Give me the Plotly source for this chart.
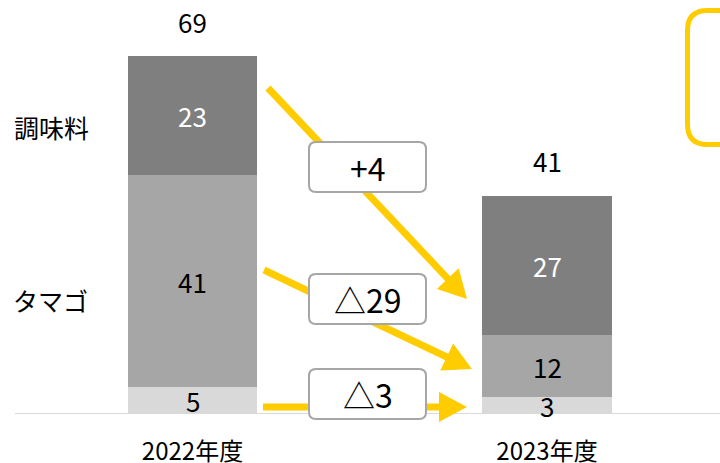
import math
import plotly.graph_objects as go

# ---------------- data ----------------
years = ["2022年度", "2023年度"]
series_names = ["その他", "タマゴ", "調味料"]
other = [5, 3]
egg = [41, 12]
seasoning = [23, 27]
total_labels = ["69", "41"]
change_labels = ["+4", "△29", "△3"]   # 調味料, タマゴ, その他

series_values = [other, egg, seasoning]
series_colors = ["#D9D9D9", "#A6A6A6", "#7F7F7F"]
label_colors = ["#000000", "#000000", "#FFFFFF"]
YELLOW = "#FFCC00"
FONT = "Noto Sans CJK JP"

# ---------------- geometry ----------------
W, H = 720, 463
ML, MR, MT, MB = 15, 0, 0, 50
PW, PH = W - ML - MR, H - MT - MB
X_UNIT = 354.5                       # px per category step
X0 = -(192.5 - ML) / X_UNIT
XR = [X0, X0 + PW / X_UNIT]
Y_UNIT = 357 / 69                    # px per value unit
YR = [0, PH / Y_UNIT]


def dx(px):
    return XR[0] + (px - ML) / PW * (XR[1] - XR[0])


def dy(py):
    return YR[0] + (H - MB - py) / PH * (YR[1] - YR[0])


def paper_x(px):
    return (px - ML) / PW


def paper_y(py):
    return (H - MB - py) / PH


xpos = list(range(len(years)))

fig = go.Figure()
for name, vals, col in zip(series_names, series_values, series_colors):
    fig.add_trace(go.Bar(
        x=xpos, y=vals, name=name, width=0.364,
        marker=dict(color=col, line=dict(width=0)),
        showlegend=False, hoverinfo="skip",
    ))

annotations = []
# segment labels
for i in xpos:
    base = 0
    for vals, lc in zip(series_values, label_colors):
        v = vals[i]
        annotations.append(dict(
            x=i, y=base + v / 2, xref="x", yref="y", text=str(v),
            showarrow=False, font=dict(family=FONT, size=26, color=lc),
            xanchor="center", yanchor="middle"))
        base += v
    annotations.append(dict(
        x=i, y=base, xref="x", yref="y", text=total_labels[i],
        showarrow=False, font=dict(family=FONT, size=26, color="#000000"),
        xanchor="center", yanchor="middle", yshift=35))

# left category labels
for name, (px, py) in zip(series_names, [(50, 424), (50, 300), (51, 127)]):
    annotations.append(dict(
        x=dx(px), y=dy(py), xref="x", yref="y", text=name, showarrow=False,
        font=dict(family=FONT, size=25, color="#000000"),
        xanchor="center", yanchor="middle"))

shapes = []


def arrow(p0, p1, head_len=28, head_w=30):
    (x0, y0), (x1, y1) = p0, p1
    ddx, ddy = x1 - x0, y1 - y0
    L = math.hypot(ddx, ddy)
    ux, uy = ddx / L, ddy / L
    bx, by = x1 - ux * head_len, y1 - uy * head_len
    nx, ny = -uy, ux
    shapes.append(dict(type="line", xref="paper", yref="paper", layer="above",
                       x0=paper_x(x0), y0=paper_y(y0),
                       x1=paper_x(bx + ux * 3), y1=paper_y(by + uy * 3),
                       line=dict(color=YELLOW, width=7)))
    pts = [(x1, y1), (bx + nx * head_w / 2, by + ny * head_w / 2),
           (bx - nx * head_w / 2, by - ny * head_w / 2)]
    path = "M " + " L ".join(f"{paper_x(a)},{paper_y(b)}" for a, b in pts) + " Z"
    shapes.append(dict(type="path", xref="paper", yref="paper", layer="above",
                       path=path, fillcolor=YELLOW, line=dict(width=0)))


def rrect(x0, y0, x1, y1, r, line_color, line_w, fill):
    P = lambda a, b: f"{paper_x(a)},{paper_y(b)}"
    path = (f"M {P(x0 + r, y0)} L {P(x1 - r, y0)} Q {P(x1, y0)} {P(x1, y0 + r)} "
            f"L {P(x1, y1 - r)} Q {P(x1, y1)} {P(x1 - r, y1)} "
            f"L {P(x0 + r, y1)} Q {P(x0, y1)} {P(x0, y1 - r)} "
            f"L {P(x0, y0 + r)} Q {P(x0, y0)} {P(x0 + r, y0)} Z")
    shapes.append(dict(type="path", xref="paper", yref="paper", layer="above",
                       path=path, fillcolor=fill,
                       line=dict(color=line_color, width=line_w)))


# arrows (seasoning, egg, other)
arrow((268, 88), (467, 299))
arrow((264, 270), (472, 369))
arrow((263, 407), (467, 407))

# change boxes
box_rows = [(142, 192), (274, 324), (369, 419)]
for (t, b), txt in zip(box_rows, change_labels):
    rrect(309, t, 426, b, 7, "#A6A6A6", 2, "#FFFFFF")
    annotations.append(dict(
        x=dx(367.5), y=dy((t + b) / 2), xref="x", yref="y", text=txt,
        showarrow=False, font=dict(family=FONT, size=32, color="#000000"),
        xanchor="center", yanchor="middle"))

# yellow frame at top right (cut off by the figure edge)
rrect(687.5, 10.5, 760, 144.5, 20, YELLOW, 5, "rgba(0,0,0,0)")

fig.update_layout(
    width=W, height=H, barmode="stack",
    margin=dict(l=ML, r=MR, t=MT, b=MB, pad=0, autoexpand=False),
    paper_bgcolor="white", plot_bgcolor="white",
    font=dict(family=FONT, color="#000000"),
    xaxis=dict(range=XR, tickvals=xpos, ticktext=years, showgrid=False,
               zeroline=False, showline=True, linecolor="#D9D9D9", linewidth=1,
               ticks="", tickfont=dict(family=FONT, size=24, color="#000000"),
               ticklabelstandoff=17, automargin=False, fixedrange=True),
    yaxis=dict(range=YR, visible=False, showgrid=False, zeroline=False,
               automargin=False, fixedrange=True),
    shapes=shapes, annotations=annotations,
)

fig.write_html(
    "out.html",
    config={"displayModeBar": False, "staticPlot": True},
    post_script="document.body.style.margin='0';document.body.style.overflow='hidden';",
)
